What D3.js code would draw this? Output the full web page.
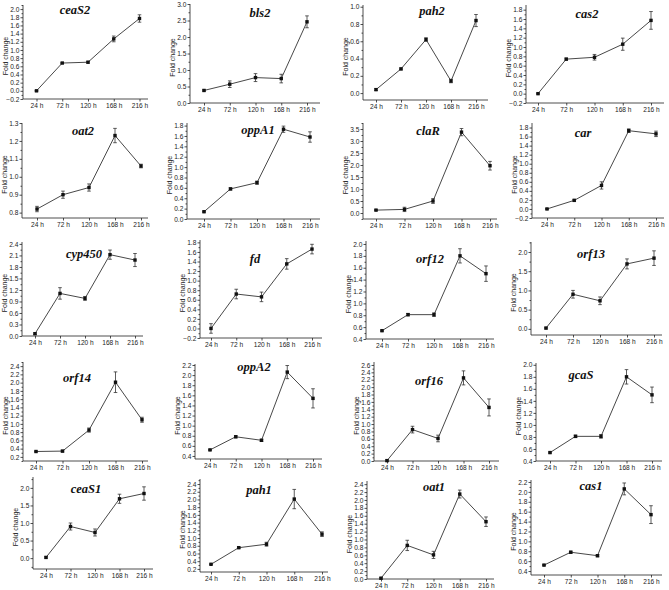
<!DOCTYPE html>
<html><head><meta charset="utf-8">
<script src="https://cdn.jsdelivr.net/npm/d3@7"></script>
<style>body{margin:0;background:#fff}svg{display:block}</style></head>
<body><svg id="c" width="669" height="590"></svg>
<script>
// ---------- data ----------
const timeLabels = ["24 h", "72 h", "120 h", "168 h", "216 h"];
const genes = ["ceaS2","bls2","pah2","cas2","oat2","oppA1","claR","car","cyp450","fd",
               "orf12","orf13","orf14","oppA2","orf16","gcaS","ceaS1","pah1","oat1","cas1"];
const foldChange = [
  [0.00, 0.68, 0.70, 1.27, 1.77],
  [0.38, 0.57, 0.77, 0.74, 2.46],
  [0.04, 0.28, 0.62, 0.14, 0.84],
  [0.00, 0.74, 0.78, 1.06, 1.57],
  [0.82, 0.90, 0.94, 1.23, 1.06],
  [0.14, 0.58, 0.70, 1.73, 1.58],
  [0.12, 0.15, 0.50, 3.37, 1.97],
  [0.00, 0.19, 0.52, 1.73, 1.66],
  [0.06, 1.11, 0.98, 2.12, 1.98],
  [0.00, 0.72, 0.66, 1.35, 1.66],
  [0.54, 0.81, 0.81, 1.80, 1.50],
  [0.02, 0.90, 0.73, 1.69, 1.84],
  [0.33, 0.34, 0.85, 2.01, 1.10],
  [0.52, 0.78, 0.71, 2.06, 1.54],
  [0.01, 0.85, 0.61, 2.25, 1.45],
  [0.54, 0.81, 0.81, 1.80, 1.50],
  [0.02, 0.90, 0.73, 1.69, 1.84],
  [0.32, 0.75, 0.84, 2.01, 1.10],
  [0.02, 0.85, 0.61, 2.15, 1.45],
  [0.52, 0.78, 0.71, 2.06, 1.54]
];
const errors = [
  [0.01, 0.01, 0.02, 0.07, 0.09],
  [0.02, 0.10, 0.12, 0.13, 0.18],
  [0.01, 0.01, 0.02, 0.02, 0.07],
  [0.01, 0.02, 0.06, 0.13, 0.19],
  [0.015, 0.02, 0.02, 0.04, 0.01],
  [0.01, 0.02, 0.03, 0.06, 0.10],
  [0.02, 0.09, 0.10, 0.15, 0.18],
  [0.01, 0.02, 0.08, 0.04, 0.06],
  [0.02, 0.15, 0.05, 0.12, 0.17],
  [0.10, 0.10, 0.10, 0.11, 0.10],
  [0.01, 0.02, 0.03, 0.12, 0.13],
  [0.02, 0.10, 0.10, 0.13, 0.19],
  [0.01, 0.02, 0.05, 0.25, 0.06],
  [0.01, 0.02, 0.02, 0.13, 0.19],
  [0.02, 0.09, 0.09, 0.19, 0.23],
  [0.01, 0.02, 0.03, 0.12, 0.13],
  [0.02, 0.10, 0.10, 0.13, 0.19],
  [0.01, 0.02, 0.05, 0.25, 0.06],
  [0.02, 0.13, 0.09, 0.10, 0.12],
  [0.01, 0.02, 0.02, 0.12, 0.18]
];
const yDomains = [
  [-0.2, 2.1], [0, 3.0], [-0.08, 1.02], [-0.2, 1.9],
  [0.77, 1.3], [0, 1.85], [-0.25, 3.75], [-0.2, 1.9],
  [0, 2.45], [-0.2, 1.85], [0.4, 2.05], [-0.16, 2.26],
  [0.1, 2.5], [0.34, 2.22], [0, 2.68], [0.4, 2.03],
  [-0.31, 2.31], [0.12, 2.53], [0, 2.48], [0.32, 2.24]
];
const yTickSteps = [0.2, 0.5, 0.2, 0.2, 0.1, 0.2, 0.5, 0.2, 0.3, 0.2,
                    0.2, 0.5, 0.2, 0.2, 0.2, 0.2, 0.5, 0.2, 0.2, 0.2];
const yLabel = "Fold change";

// ---------- layout (axisLeft, axisRight, firstCat, lastCat, top, bottom) ----------
const frames = [
  [23,148,36.5,139.5,5,99], [190,320,204,307,4,103], [363,488,376,476,5,100], [526,664,538,651,5,103],
  [22,148,37,141,123,218], [187,320,204,310,123,219], [363,497,376,490,123,219], [532,664,547,656,123,218],
  [22,143,35,135,242,336], [200,322,211,312,240,338], [366,494,382,486,241,339], [531,662,546,654,242,335],
  [23,148,36,142,362,461], [195,322,210,313,364,459], [374,499,387,489,362,461], [536,662,550,652,363,461],
  [33,153,46,144,477,569], [200,328,211,322,479,572], [367,494,381,486,481,579], [531,662,544,651,480,575]
];
const titlePos = [
  [75,14],[260,17],[432,15],[587,18],
  [83,135],[258,134],[428,135],[583,137],
  [84,258],[255,263],[430,263],[591,258],
  [77,382],[254,371],[429,385],[581,379],
  [86,493],[259,494],[434,491],[591,490]
];

const svg = d3.select("#c");
svg.append("rect").attr("width",669).attr("height",590).attr("fill","#fff");
const ink = "#222";
const tickFont = "Liberation Sans, Arial, sans-serif";

genes.forEach((gene, i) => {
  const [L, R, c0, c4, T, B] = frames[i];
  const [dmin, dmax] = yDomains[i];
  const step = yTickSteps[i];
  const x = d3.scalePoint().domain(timeLabels).range([c0, c4]).padding(0);
  const y = d3.scaleLinear().domain([dmin, dmax]).range([B, T]);
  const kmin = Math.ceil(dmin / step - 1e-6), kmax = Math.floor(dmax / step + 1e-6);
  const major = d3.range(kmin, kmax + 1).map(k => +(k * step).toFixed(3));
  const minor = d3.range(kmin - 1, kmax + 1).map(k => (k + 0.5) * step).filter(v => v >= dmin && v <= dmax);

  const g = svg.append("g");

  // y axis
  const ya = g.append("g").attr("transform", `translate(${L},0)`)
    .call(d3.axisLeft(y).tickValues(major).tickFormat(d3.format(".1f")).tickSize(2.5).tickPadding(1.2).tickSizeOuter(0));
  ya.select(".domain").attr("d", `M0,${T}V${B}`);
  g.append("g").attr("transform", `translate(${L},0)`)
    .call(d3.axisLeft(y).tickValues(minor).tickFormat("").tickSize(1.5).tickSizeOuter(0))
    .select(".domain").remove();

  // x axis
  const xa = g.append("g").attr("transform", `translate(0,${B})`)
    .call(d3.axisBottom(x).tickSize(2.5).tickPadding(2).tickSizeOuter(0));
  xa.select(".domain").attr("d", `M${L},0H${R}`);

  [ya, xa].forEach(a => {
    a.selectAll("path,line").attr("stroke", ink).attr("stroke-width", 0.8);
    a.selectAll("text").attr("font-family", tickFont).attr("font-size", 6.6).attr("fill", ink);
  });
  g.selectAll(".tick line").attr("stroke", ink).attr("stroke-width", 0.8);

  // y label
  g.append("text")
    .attr("transform", `translate(${L - 15},${(T + B) / 2 + 4}) rotate(-90)`)
    .attr("text-anchor", "middle")
    .attr("font-family", tickFont).attr("font-size", 7).attr("fill", ink)
    .text(yLabel);

  // title
  g.append("text")
    .attr("x", titlePos[i][0]).attr("y", titlePos[i][1])
    .attr("text-anchor", "middle")
    .attr("font-family", "Liberation Serif, Times New Roman, serif")
    .attr("font-style", "italic").attr("font-weight", "bold").attr("font-size", 12.5)
    .attr("fill", "#111")
    .text(gene);

  const pts = timeLabels.map((t, j) => ({ t, v: foldChange[i][j], e: errors[i][j] }));

  // line
  g.append("path").datum(pts)
    .attr("fill", "none").attr("stroke", "#333").attr("stroke-width", 0.9)
    .attr("d", d3.line().x(d => x(d.t)).y(d => y(d.v)));

  // error bars
  const eb = g.append("g").attr("stroke", "#333").attr("stroke-width", 0.8);
  pts.forEach(d => {
    const cx = x(d.t), y1 = y(d.v + d.e), y2 = y(d.v - d.e);
    eb.append("line").attr("x1", cx).attr("x2", cx).attr("y1", y1).attr("y2", y2);
    eb.append("line").attr("x1", cx - 1.8).attr("x2", cx + 1.8).attr("y1", y1).attr("y2", y1);
    eb.append("line").attr("x1", cx - 1.8).attr("x2", cx + 1.8).attr("y1", y2).attr("y2", y2);
  });

  // markers
  g.selectAll(null).data(pts).enter().append("rect")
    .attr("x", d => x(d.t) - 1.7).attr("y", d => y(d.v) - 1.7)
    .attr("width", 3.4).attr("height", 3.4).attr("fill", "#111");
});
</script>
</body></html>
